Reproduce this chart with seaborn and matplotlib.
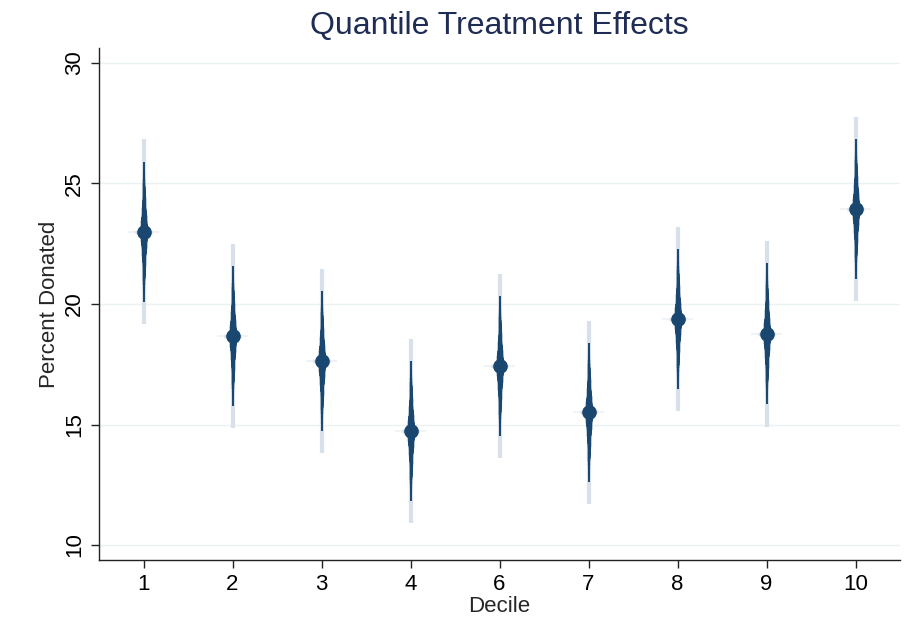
import numpy as np
import pandas as pd
import matplotlib
matplotlib.use("Agg")
import matplotlib.pyplot as plt
import seaborn as sns
from statistics import NormalDist

# Quantile treatment effects by decile (estimate and 95% CI)
deciles = ["1", "2", "3", "4", "6", "7", "8", "9", "10"]
estimate = [23.0, 18.67, 17.63, 14.73, 17.43, 15.5, 19.38, 18.76, 23.94]
ci_low = [20.08, 15.77, 14.73, 11.83, 14.52, 12.6, 16.47, 15.85, 21.04]
ci_high = [25.9, 21.6, 20.54, 17.63, 20.33, 18.38, 22.28, 21.7, 26.85]

df = pd.DataFrame({"Decile": deciles, "Estimate": estimate,
                   "lo": ci_low, "hi": ci_high})
se = (df["hi"] - df["lo"]) / (2 * 1.96)

navy = "#1a476f"
light = "#d8e1ea"

sns.set_style("white")
plt.rcParams["font.family"] = ["Liberation Sans", "DejaVu Sans"]

fig = plt.figure(figsize=(9.07, 6.44), dpi=100)
ax = fig.add_axes([99 / 907, 1 - 560 / 644, 801 / 907, 512 / 644])

# markers through seaborn's categorical axis
sns.pointplot(data=df, x="Decile", y="Estimate", linestyle="none",
              marker="o", markersize=8.5, color=navy, errorbar=None,
              ax=ax, zorder=5)

pos = np.arange(len(df))
z = NormalDist().inv_cdf

# outer (99%) light band
h99 = z(0.995) * se
ax.vlines(pos, df["Estimate"] - h99, df["Estimate"] + h99,
          color=light, lw=3.0, zorder=2)

# smoothed inner band, thicker toward the estimate
for lvl in range(95, 0, -3):
    h = z(0.5 + lvl / 200) * se
    lw = 1.4 + 4.6 * (1 - lvl / 95) ** 1.3
    ax.vlines(pos, df["Estimate"] - h, df["Estimate"] + h,
              color=navy, lw=lw, zorder=3)

# faint horizontal glow at the estimate
ax.hlines(df["Estimate"], pos - 0.17, pos + 0.17, color="#edf1f5", lw=1.2, zorder=1)
ax.hlines(df["Estimate"], pos - 0.09, pos + 0.09, color="#d3dce6", lw=2.5, zorder=1)

ax.set_xlim(-0.5, 8.5)
ax.set_ylim(9.38, 30.62)
ax.set_yticks([10, 15, 20, 25, 30])
ax.yaxis.grid(True, color="#eaf2f3", lw=1.0)
ax.set_axisbelow(True)

for s in ["top", "right"]:
    ax.spines[s].set_visible(False)
for s in ["left", "bottom"]:
    ax.spines[s].set_color("#222222")
    ax.spines[s].set_linewidth(1.0)

ax.tick_params(axis="both", direction="out", length=6, width=1,
               color="#222222", labelsize=16, labelcolor="black", pad=4,
               left=True, bottom=True)
for lab in ax.get_yticklabels():
    lab.set_rotation(90)
    lab.set_va("center")

ax.set_xlabel("Decile", fontsize=16, labelpad=1)
ax.set_ylabel("Percent Donated", fontsize=16, labelpad=3)
ax.set_title("Quantile Treatment Effects", fontsize=23, color="#1f2d55", pad=10)

fig.savefig("out.png", dpi=100)
